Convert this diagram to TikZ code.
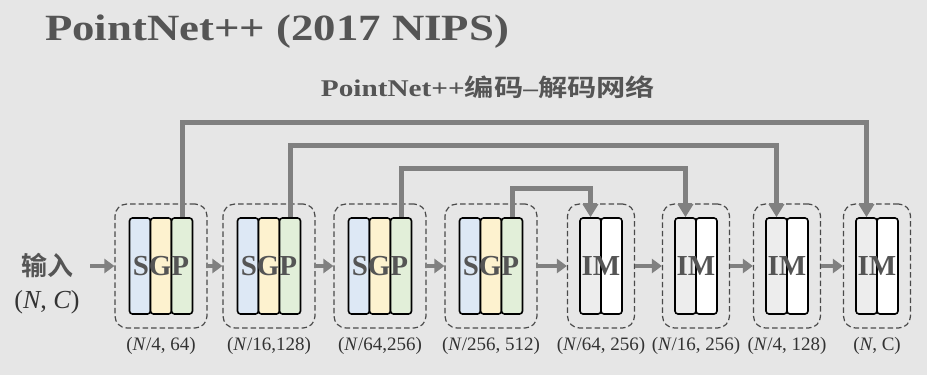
\documentclass[tikz,border=0pt]{standalone}
\usepackage{fontspec}
\setmainfont{Liberation Serif}
\newfontfamily\cjkbold[BoldFont={Noto Sans CJK SC Bold}]{Noto Sans CJK SC Bold}
\usetikzlibrary{arrows.meta}
\definecolor{bgc}{HTML}{E6E6E6}
\definecolor{ink}{HTML}{555555}
\definecolor{txt}{HTML}{333333}
\definecolor{flow}{HTML}{808080}
\definecolor{dashc}{HTML}{4A4A4A}
\definecolor{sblue}{HTML}{DDE8F5}
\definecolor{gyel}{HTML}{FDF2CF}
\definecolor{pgrn}{HTML}{E2EFD9}
\definecolor{igry}{HTML}{EDEDED}
\tikzset{
  col/.style={draw=black, line width=1.6pt, rounded corners=3pt,
    minimum width=21pt, minimum height=96pt, inner sep=0pt},
  group/.style={draw=dashc, line width=1.2pt, dash pattern=on 5.5pt off 3pt,
    rounded corners=12pt, inner sep=0pt, minimum height=124pt},
  blocktxt/.style={font=\bfseries\fontsize{29}{29}\selectfont, text=ink, inner sep=0pt},
  dimtxt/.style={font=\fontsize{19}{19}\selectfont, text=txt, inner sep=0pt},
  flowarrow/.style={draw=flow, line width=4.5pt,
    -{Triangle[length=10pt,width=14pt]}},
  skip/.style={draw=flow, line width=5pt,
    -{Triangle[length=13pt,width=15pt]}},
}
\newcommand{\sgpblock}[2]{%
  \node[group, minimum width=92pt] (b#1) at (#2,266) {};
  \node[col, fill=sblue] (s#1) at (#2-21,266) {};
  \node[col, fill=gyel]  (g#1) at (#2,266) {};
  \node[col, fill=pgrn]  (p#1) at (#2+21,266) {};
  \node[blocktxt] (t#1) at (#2,266) {SGP};
}
\newcommand{\imblock}[2]{%
  \node[group, minimum width=67pt] (c#1) at (#2,266) {};
  \node[col, fill=igry]  (ia#1) at (#2-10.5,266) {};
  \node[col, fill=white] (ib#1) at (#2+10.5,266) {};
  \node[blocktxt] (u#1) at (#2,266) {IM};
}
\begin{document}
\begin{tikzpicture}[x=1pt,y=-1pt]
  \fill[bgc] (0,0) rectangle (927,375);
  \useasboundingbox (0,0) rectangle (927,375);

  % headings (wide bold face)
  \node[anchor=base west, inner sep=0pt, text=ink, xscale=1.21,
    font=\bfseries\fontsize{37}{37}\selectfont] (title) at (45,40)
    {PointNet++ (2017 NIPS)};
  \node[anchor=base, inner sep=0pt, text=ink, xscale=1.22,
    font=\bfseries\fontsize{24}{24}\selectfont] (sub) at (488,96)
    {PointNet++{\cjkbold 编码}–{\cjkbold 解码网络}};

  % input
  \node[text=ink, inner sep=0pt, font=\cjkbold\fontsize{26}{26}\selectfont]
    (in) at (47,265) {输入};
  \node[text=txt, inner sep=0pt, font=\fontsize{26}{26}\selectfont]
    (inshape) at (47,302) {(\textit{N}, \textit{C})};
  \coordinate (instart) at (90,266);

  % encoder
  \sgpblock{1}{161}
  \sgpblock{2}{269}
  \sgpblock{3}{380}
  \sgpblock{4}{491}
  % decoder
  \imblock{1}{601}
  \imblock{2}{696}
  \imblock{3}{787}
  \imblock{4}{877}

  % shape labels
  \node[dimtxt] (d1) at (161,346) {(\textit{N}/4, 64)};
  \node[dimtxt] (d2) at (269,346) {(\textit{N}/16,128)};
  \node[dimtxt] (d3) at (380,346) {(\textit{N}/64,256)};
  \node[dimtxt] (d4) at (491,346) {(\textit{N}/256, 512)};
  \node[dimtxt] (d5) at (601,346) {(\textit{N}/64, 256)};
  \node[dimtxt] (d6) at (696,346) {(\textit{N}/16, 256)};
  \node[dimtxt] (d7) at (787,346) {(\textit{N}/4, 128)};
  \node[dimtxt] (d8) at (877,346) {(\textit{N}, C)};

  % main flow
  \draw[flowarrow] (instart) -- (b1.west);
  \draw[flowarrow] (b1.east) -- (b2.west);
  \draw[flowarrow] (b2.east) -- (b3.west);
  \draw[flowarrow] (b3.east) -- (b4.west);
  \draw[flowarrow] (b4.east) -- (c1.west);
  \draw[flowarrow] (c1.east) -- (c2.west);
  \draw[flowarrow] (c2.east) -- (c3.west);
  \draw[flowarrow] (c3.east) -- (c4.west);

  % skip connections
  \draw[skip] (p1.north) -- (p1.north |- 0,122) -| (ia4.north);
  \draw[skip] (p2.north) -- (p2.north |- 0,145) -| (ia3.north);
  \draw[skip] (p3.north) -- (p3.north |- 0,168) -| (ia2.north);
  \draw[skip] (p4.north) -- (p4.north |- 0,188) -| (ia1.north);
\end{tikzpicture}
\end{document}
